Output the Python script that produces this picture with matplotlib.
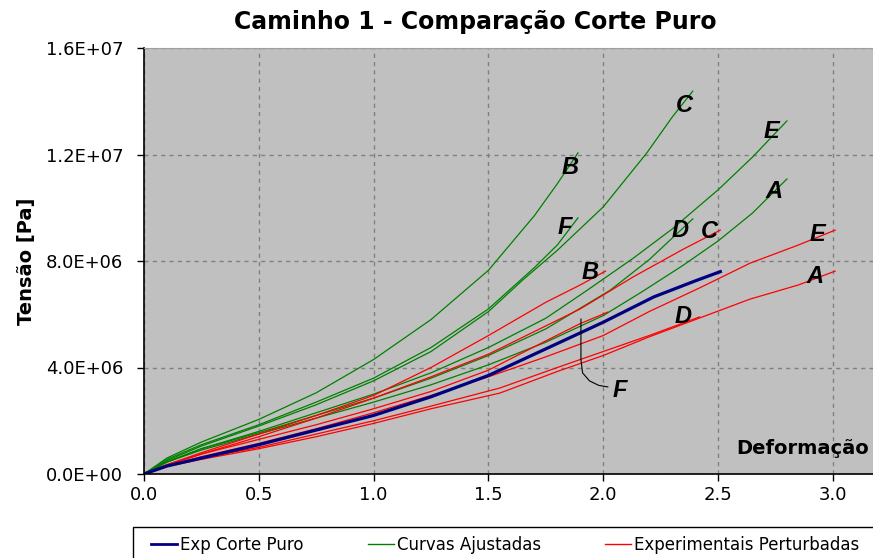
import numpy as np
import matplotlib
matplotlib.use('Agg')
import matplotlib.pyplot as plt
from matplotlib.patches import Rectangle
from matplotlib.ticker import FormatStrFormatter

plt.rcParams['font.family'] = ['DejaVu Sans']

# deformacao / tensao (MPa) das curvas
exp_x = [0.0, 0.1, 0.25, 0.5, 0.75, 1.0, 1.25, 1.5, 1.75, 1.9, 2.0, 2.22, 2.4, 2.51]
exp_y = [0.0, 0.3, 0.6, 1.1, 1.65, 2.2, 2.9, 3.7, 4.7, 5.3, 5.7, 6.65, 7.25, 7.6]

# curvas ajustadas (verde)
aj_x = {
    'B': [0.0, 0.1, 0.25, 0.5, 0.75, 1.0, 1.25, 1.5, 1.7, 1.8, 1.89],
    'F': [0.0, 0.1, 0.25, 0.5, 0.75, 1.0, 1.25, 1.5, 1.7, 1.8, 1.89],
    'C': [0.0, 0.1, 0.25, 0.5, 0.75, 1.0, 1.25, 1.5, 1.65, 1.8, 2.0, 2.19, 2.3, 2.39],
    'E': [0.0, 0.1, 0.25, 0.5, 0.75, 1.0, 1.25, 1.5, 1.75, 1.93, 2.13, 2.3, 2.5, 2.65, 2.8],
    'D': [0.0, 0.1, 0.25, 0.5, 0.75, 1.0, 1.25, 1.5, 1.75, 2.03, 2.2, 2.39],
    'A': [0.0, 0.1, 0.25, 0.5, 0.75, 1.0, 1.25, 1.5, 1.75, 2.0, 2.17, 2.35, 2.5, 2.65, 2.8],
}
aj_y = {
    'B': [0.0, 0.6, 1.2, 2.05, 3.05, 4.3, 5.8, 7.65, 9.7, 10.9, 12.06],
    'F': [0.0, 0.55, 1.1, 1.85, 2.7, 3.6, 4.75, 6.2, 7.75, 8.6, 9.62],
    'C': [0.0, 0.5, 1.05, 1.8, 2.6, 3.5, 4.6, 6.1, 7.29, 8.4, 10.03, 12.06, 13.4, 14.38],
    'E': [0.0, 0.45, 0.95, 1.6, 2.3, 3.0, 3.8, 4.75, 5.85, 6.9, 8.1, 9.2, 10.67, 11.9, 13.26],
    'D': [0.0, 0.45, 0.95, 1.55, 2.2, 2.85, 3.6, 4.45, 5.45, 6.9, 8.05, 9.58],
    'A': [0.0, 0.45, 0.9, 1.5, 2.1, 2.7, 3.35, 4.1, 4.95, 5.95, 6.85, 7.85, 8.75, 9.8, 11.08],
}

# experimentais perturbadas (vermelho)
pt_x = {
    'B': [0.0, 0.1, 0.25, 0.5, 0.75, 1.0, 1.25, 1.5, 1.75, 1.9, 2.01],
    'C': [0.0, 0.1, 0.25, 0.5, 0.75, 1.0, 1.25, 1.5, 1.9, 2.13, 2.35, 2.51],
    'F': [0.0, 0.1, 0.25, 0.5, 0.75, 1.0, 1.25, 1.5, 1.75, 1.9, 2.02],
    'E': [0.0, 0.1, 0.25, 0.5, 0.75, 1.0, 1.25, 1.5, 1.75, 2.0, 2.2, 2.42, 2.64, 2.85, 3.01],
    'D': [0.0, 0.1, 0.25, 0.5, 0.75, 1.0, 1.25, 1.55, 1.8, 2.0, 2.2, 2.42],
    'A': [0.0, 0.1, 0.25, 0.5, 0.75, 1.0, 1.25, 1.55, 1.8, 2.0, 2.2, 2.42, 2.64, 2.85, 3.01],
}
pt_y = {
    'B': [0.0, 0.35, 0.8, 1.5, 2.2, 2.95, 4.0, 5.2, 6.45, 7.1, 7.62],
    'C': [0.0, 0.33, 0.75, 1.4, 2.1, 2.85, 3.65, 4.5, 6.2, 7.4, 8.45, 9.16],
    'F': [0.0, 0.35, 0.75, 1.3, 1.85, 2.45, 3.1, 3.9, 5.0, 5.65, 6.08],
    'E': [0.0, 0.3, 0.65, 1.15, 1.7, 2.3, 2.95, 3.65, 4.4, 5.2, 6.1, 6.99, 7.92, 8.6, 9.16],
    'D': [0.0, 0.3, 0.6, 1.0, 1.5, 2.0, 2.55, 3.23, 4.0, 4.6, 5.2, 5.9],
    'A': [0.0, 0.28, 0.55, 0.95, 1.4, 1.9, 2.45, 3.04, 3.85, 4.45, 5.15, 5.86, 6.57, 7.1, 7.62],
}

# deslocamento (pixels) das letras em relacao ao fim de cada curva
aj_off = {'B': (-8, -15), 'F': (-13, -10), 'C': (-8, -14), 'E': (-15, -11), 'D': (-13, -12), 'A': (-13, -13)}
pt_off = {'B': (-15, -1), 'C': (-11, -1), 'E': (-18, -4), 'D': (-17, 0), 'A': (-20, -5)}

fig = plt.figure(figsize=(8.73, 5.58), dpi=100)
ax = fig.add_axes([144 / 873, 1 - 474 / 558, 1 - 144 / 873, (474 - 48) / 558])
ax.set_facecolor('#c0c0c0')

for k in aj_x:
    ax.plot(aj_x[k], np.array(aj_y[k]) * 1e6, color='#008000', lw=0.9)
for k in pt_x:
    ax.plot(pt_x[k], np.array(pt_y[k]) * 1e6, color='#ff0000', lw=0.9)
ax.plot(exp_x, np.array(exp_y) * 1e6, color='#000080', lw=2.3)

lab = dict(fontsize=17, fontweight='bold', fontstyle='italic', ha='center', va='center',
           family='Liberation Sans', textcoords='offset pixels')
for k, (dx, dy) in aj_off.items():
    ax.annotate(k, (aj_x[k][-1], aj_y[k][-1] * 1e6), xytext=(dx, dy), **lab)
for k, (dx, dy) in pt_off.items():
    ax.annotate(k, (pt_x[k][-1], pt_y[k][-1] * 1e6), xytext=(dx, dy), **lab)

# chamada da curva F vermelha
ax.plot([1.903, 1.903, 1.91, 1.94, 1.98, 2.02],
        [5.82e6, 4.3e6, 3.8e6, 3.5e6, 3.33e6, 3.27e6], color='black', lw=0.8)
ax.text(2.07, 3.15e6, 'F', fontsize=17, fontweight='bold', fontstyle='italic',
        family='Liberation Sans', ha='center', va='center')

ax.set_xlim(0, 3.175)
ax.set_ylim(0, 1.6e7)
ax.set_xticks(np.arange(0, 3.01, 0.5))
ax.set_yticks(np.arange(0, 1.61e7, 4e6))
ax.xaxis.set_major_formatter(FormatStrFormatter('%.1f'))
ax.yaxis.set_major_formatter(FormatStrFormatter('%.1E'))
ax.tick_params(labelsize=13, direction='out', length=5, width=1, colors='black')
ax.tick_params(axis='y', pad=10)
ax.tick_params(axis='x', pad=4)
ax.grid(True, ls=(0, (3, 3)), color='#808080', lw=1)
ax.set_axisbelow(True)
for s in ['top', 'right']:
    ax.spines[s].set_color('#a0a0a0')
for s in ['left', 'bottom']:
    ax.spines[s].set_linewidth(1.2)

ax.set_ylabel('Tensão [Pa]', fontsize=14, fontweight='bold')
ax.yaxis.set_label_coords((36 - 144) / 729, 0.5)
ax.text(0.995, 0.06, 'Deformação', transform=ax.transAxes, fontsize=14,
        fontweight='bold', ha='right', va='center')
fig.text(0.545, 0.96, 'Caminho 1 - Comparação Corte Puro', fontsize=17,
         fontweight='bold', ha='center', va='center')

# caixa da legenda (cortada na borda da figura)
fig.patches.append(Rectangle((133 / 873, -0.1), 1.0, 0.1 + (558 - 527) / 558,
                             transform=fig.transFigure, fill=False, ec='black', lw=1))
handles = [plt.Line2D([], [], color='#000080', lw=2),
           plt.Line2D([], [], color='#008000', lw=1),
           plt.Line2D([], [], color='#ff0000', lw=1)]
fig.legend(handles, ['Exp Corte Puro', 'Curvas Ajustadas', 'Experimentais Perturbadas'],
           loc='upper left', bbox_to_anchor=(151 / 873, 1 - 536 / 558), ncol=3,
           fontsize=12, frameon=False, handlelength=1.55, handletextpad=0.2,
           columnspacing=3.85, borderpad=0, borderaxespad=0)

fig.savefig('out.png', dpi=100)
